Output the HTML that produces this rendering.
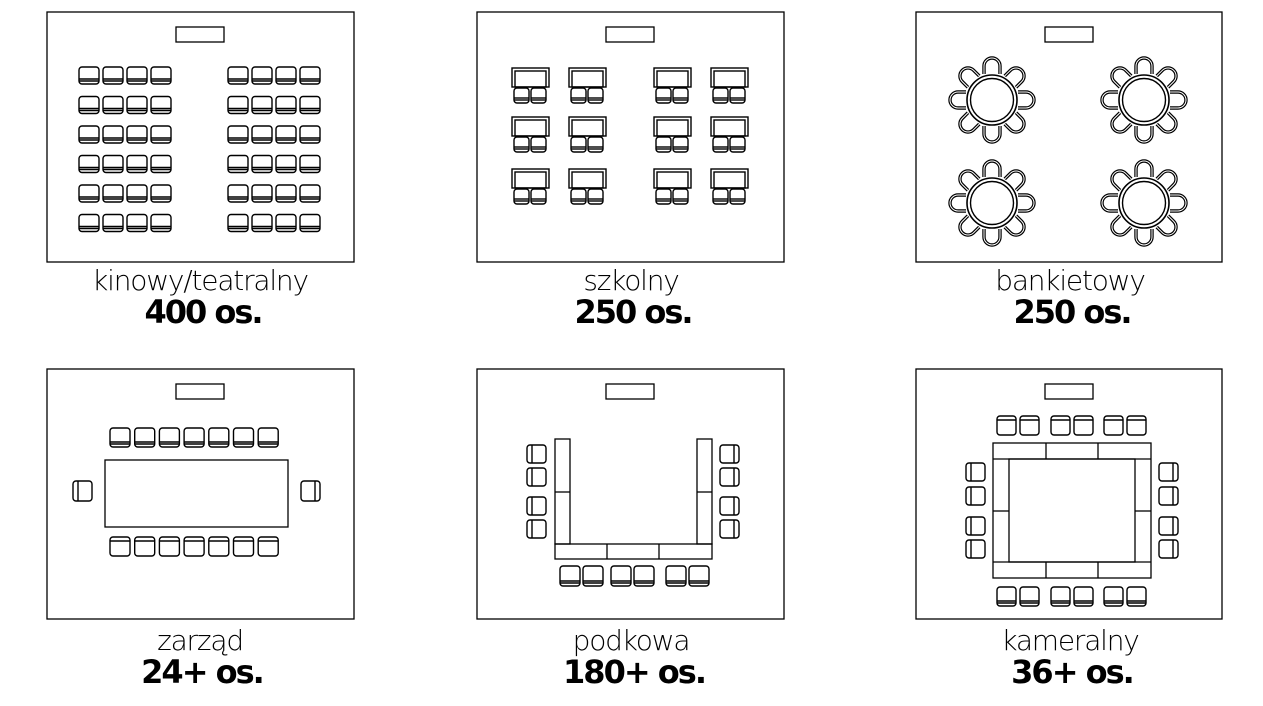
<!DOCTYPE html>
<html><head><meta charset="utf-8"><style>
body{margin:0;background:#fff;}
svg{display:block}
text{font-family:"DejaVu Sans","Liberation Sans",sans-serif;text-anchor:middle;fill:#000}
.n{font-size:28px;font-weight:200;letter-spacing:-1.2px}
.c{font-size:32px;font-weight:bold;letter-spacing:-2px}
</style></head><body>
<svg id="s" width="1263" height="706" viewBox="0 0 1263 706" xmlns="http://www.w3.org/2000/svg">
<g fill="none" stroke="#000" stroke-width="1.3">
<rect x="47" y="12" width="307" height="250"/>
<rect x="477" y="12" width="307" height="250"/>
<rect x="916" y="12" width="306" height="250"/>
<rect x="47" y="369" width="307" height="250"/>
<rect x="477" y="369" width="307" height="250"/>
<rect x="916" y="369" width="306" height="250"/>
<rect x="176" y="27" width="48" height="15"/>
<rect x="606" y="27" width="48" height="15"/>
<rect x="1045" y="27" width="48" height="15"/>
<rect x="176" y="384" width="48" height="15"/>
<rect x="606" y="384" width="48" height="15"/>
<rect x="1045" y="384" width="48" height="15"/>
<rect x="105" y="460" width="183" height="67"/>
<rect x="555" y="439" width="15" height="105"/><line x1="555" y1="492" x2="570" y2="492"/>
<rect x="697" y="439" width="15" height="105"/><line x1="697" y1="492" x2="712" y2="492"/>
<rect x="555" y="544" width="157" height="15"/><line x1="607" y1="544" x2="607" y2="559"/><line x1="659" y1="544" x2="659" y2="559"/>
<rect x="993" y="443" width="158" height="135"/>
<rect x="1009" y="459" width="126" height="103"/>
<line x1="993" y1="459" x2="1151" y2="459"/><line x1="993" y1="562" x2="1151" y2="562"/>
<line x1="1046" y1="443" x2="1046" y2="459"/><line x1="1098" y1="443" x2="1098" y2="459"/>
<line x1="1046" y1="562" x2="1046" y2="578"/><line x1="1098" y1="562" x2="1098" y2="578"/>
<line x1="993" y1="511" x2="1009" y2="511"/><line x1="1135" y1="511" x2="1151" y2="511"/>
</g>
<g id="dyn" fill="none" stroke="#000" stroke-width="1.4"></g>
<text class="n" x="200" y="290">kinowy/teatralny</text>
<text class="c" x="203" y="323">400 os.</text>
<text class="n" x="631" y="290">szkolny</text>
<text class="c" x="633" y="323">250 os.</text>
<text class="n" x="1070" y="290">bankietowy</text>
<text class="c" x="1072" y="323">250 os.</text>
<text class="n" x="200" y="650">zarząd</text>
<text class="c" x="202" y="683">24+ os.</text>
<text class="n" x="631" y="650">podkowa</text>
<text class="c" x="634" y="683">180+ os.</text>
<text class="n" x="1070" y="650">kameralny</text>
<text class="c" x="1072" y="683">36+ os.</text>
</svg>
<script>
var g=document.getElementById('dyn'),h='';
function ch(x,y,w,hh,d){
 h+='<rect x="'+x+'" y="'+y+'" width="'+w+'" height="'+hh+'" rx="3"/>';
 if(d=='d'){h+='<line x1="'+x+'" y1="'+(y+hh-5)+'" x2="'+(x+w)+'" y2="'+(y+hh-5)+'"/><line x1="'+x+'" y1="'+(y+hh-3)+'" x2="'+(x+w)+'" y2="'+(y+hh-3)+'"/>';}
 if(d=='u'){h+='<line x1="'+x+'" y1="'+(y+4)+'" x2="'+(x+w)+'" y2="'+(y+4)+'"/>';}
 if(d=='r'){h+='<line x1="'+(x+w-5)+'" y1="'+y+'" x2="'+(x+w-5)+'" y2="'+(y+hh)+'"/>';}
 if(d=='l'){h+='<line x1="'+(x+5)+'" y1="'+y+'" x2="'+(x+5)+'" y2="'+(y+hh)+'"/>';}
}
for(var r=0;r<6;r++)for(var c=0;c<4;c++){ch(79+c*24,67+r*29.5,20,17,'d');ch(228+c*24,67+r*29.5,20,17,'d');}
[512,569,654,711].forEach(function(x){[68,117,169].forEach(function(y){
 h+='<rect x="'+x+'" y="'+y+'" width="37" height="19"/><rect x="'+(x+3)+'" y="'+(y+3)+'" width="31" height="16"/>';
 ch(x+2,y+20,15,15,'d');ch(x+19,y+20,15,15,'d');
});});
[[992,100],[1144,100],[992,203],[1144,203]].forEach(function(p){
 for(var i=0;i<8;i++){var a=i*45;
  var d="M-8,-26 L-8,-34 A8,8 0 0 1 8,-34 L8,-26";
  h+='<g transform="translate('+p[0]+','+p[1]+') rotate('+a+')"><path d="'+d+'" stroke-width="3.4"/><path d="'+d+'" stroke="#fff" stroke-width="1"/></g>';}
 h+='<circle cx="'+p[0]+'" cy="'+p[1]+'" r="25" fill="#fff" stroke-width="1.6"/><circle cx="'+p[0]+'" cy="'+p[1]+'" r="21.5"/>';
});
for(var i=0;i<7;i++){ch(110+i*24.7,428,20,19,'d');ch(110+i*24.7,537,20,19,'u');}
ch(73,481,19,20,'l');ch(301,481,19,20,'r');
[445,468,497,520].forEach(function(y){ch(527,y,19,18,'l');ch(720,y,19,18,'r');});
[560,583,611,634,666,689].forEach(function(x){ch(x,566,20,20,'d');});
[997,1020,1051,1074,1104,1127].forEach(function(x){ch(x,416,19,19,'u');ch(x,587,19,19,'d');});
[463,487,517,540].forEach(function(y){ch(966,y,19,18,'l');ch(1159,y,19,18,'r');});
g.innerHTML=h;
</script>
</body></html>
